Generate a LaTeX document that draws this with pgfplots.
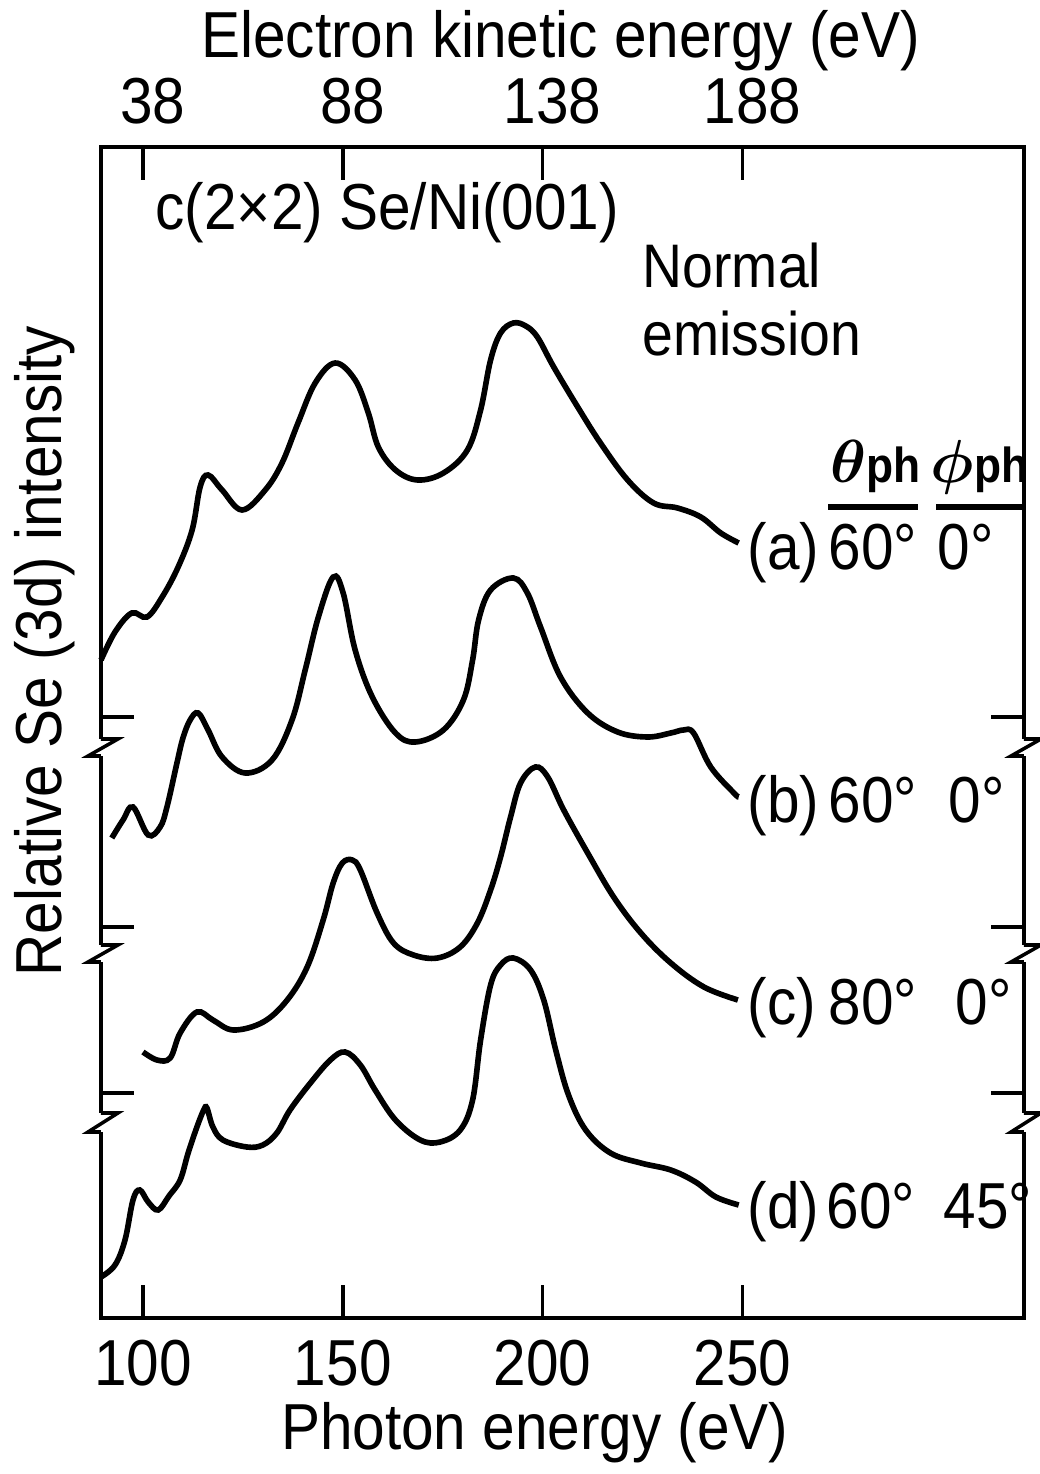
\documentclass[border=0pt]{standalone}
\usepackage{pgfplots}
\pgfplotsset{compat=1.18}
\usepackage{fontspec}
\setmainfont{Liberation Sans}[FakeStretch=0.9]
\newcommand\fs{\fontsize{18.5}{22}\selectfont}
\begin{document}
\fs
\begin{tikzpicture}
\begin{axis}[
  scale only axis, width=9.23cm, height=11.71cm,
  xmin=89.49, xmax=320.5, ymin=0, ymax=11.71,
  xtick={100,150,200,250}, xticklabels={100,150,200,250},
  ytick={2.25,3.91,6.01}, yticklabels={,,},
  major tick length=0.33cm,
  tick align=inside,
  every tick/.style={black, line width=1pt},
  axis line style={line width=1pt},
  tick label style={font=\fs},
  label style={font=\fs},
  xlabel={Photon energy (eV)},
  ylabel={Relative Se (3d) intensity},
  xlabel style={at={(axis description cs:0.470,-0.1127)}, anchor=base},
  ylabel style={at={(axis description cs:-0.0423,0.5696)}, anchor=base},
  clip=false,
]
% curve (a)
\addplot[black, line width=1.6pt, smooth, tension=0.6] coordinates {
(89.5,6.58) (93.0,6.86) (97.2,7.05) (101.0,7.01) (104.8,7.21) (108.8,7.51) (112.3,7.88) (114.3,8.31) (116.3,8.43) (119.8,8.28) (124.8,8.08) (130.6,8.28) (134.8,8.55) (138.8,8.95) (143.1,9.35) (148.1,9.55) (153.1,9.38) (156.4,9.05) (158.9,8.71) (163.2,8.48) (168.7,8.38) (175.2,8.45) (181.2,8.68) (184.5,9.08) (187.0,9.58) (189.5,9.85) (192.7,9.95) (195.8,9.92) (198.7,9.81) (202.8,9.51) (208.8,9.11) (214.5,8.75) (221.3,8.38) (227.8,8.15) (233.8,8.10) (239.6,8.01) (244.6,7.85) (249.1,7.75)
};
% curve (b)
\addplot[black, line width=1.6pt, smooth, tension=0.6] coordinates {
(92.2,4.80) (95.0,4.98) (97.5,5.11) (101.3,4.83) (104.3,4.91) (106.0,5.11) (108.5,5.55) (110.0,5.80) (111.8,5.98) (113.8,6.05) (116.3,5.88) (119.8,5.61) (125.6,5.45) (132.3,5.58) (137.3,5.98) (140.6,6.48) (143.9,7.01) (147.6,7.41) (150.1,7.25) (153.1,6.68) (157.4,6.21) (163.2,5.85) (168.2,5.76) (175.2,5.88) (180.2,6.18) (182.5,6.58) (184.0,6.98) (187.0,7.28) (192.7,7.40) (196.2,7.25) (199.5,6.91) (204.5,6.41) (211.3,6.05) (218.8,5.86) (226.3,5.81) (232.1,5.85) (235.3,5.88) (237.8,5.85) (242.1,5.51) (247.9,5.25) (249.1,5.21)
};
% curve (c)
\addplot[black, line width=1.6pt, smooth, tension=0.6] coordinates {
(100.0,2.66) (103.5,2.58) (106.8,2.60) (109.3,2.85) (113.5,3.06) (117.5,2.98) (122.6,2.88) (130.1,2.96) (136.1,3.18) (141.1,3.51) (145.1,3.98) (147.6,4.35) (149.9,4.55) (152.4,4.58) (154.4,4.48) (158.6,4.05) (162.7,3.75) (167.7,3.63) (173.7,3.60) (179.4,3.71) (183.7,3.95) (187.0,4.28) (189.5,4.61) (192.0,5.01) (194.5,5.35) (198.2,5.51) (201.3,5.41) (205.3,5.08) (211.3,4.65) (217.8,4.21) (224.6,3.85) (232.1,3.55) (240.4,3.31) (248.9,3.18)
};
% curve (d)
\addplot[black, line width=1.6pt, smooth, tension=0.6] coordinates {
(89.5,0.41) (93.0,0.53) (95.5,0.78) (97.5,1.18) (99.2,1.28) (101.3,1.16) (103.8,1.08) (106.5,1.22) (109.3,1.38) (111.3,1.65) (113.5,1.91) (115.2,2.08) (116.0,2.10) (117.5,1.91) (120.0,1.78) (126.0,1.71) (130.0,1.73) (133.5,1.85) (136.8,2.08) (141.9,2.35) (146.9,2.58) (150.6,2.66) (154.4,2.53) (158.1,2.28) (163.2,1.98) (169.4,1.78) (174.4,1.76) (179.4,1.88) (182.5,2.18) (184.5,2.78) (187.0,3.33) (189.5,3.53) (192.7,3.60) (197.0,3.48) (200.3,3.18) (203.3,2.68) (206.5,2.23) (210.8,1.88) (217.0,1.65) (224.6,1.55) (232.1,1.48) (238.3,1.36) (243.4,1.21) (249.1,1.13)
};
% axis breaks (left)
\fill[white] ([xshift=-2pt]axis cs:89.49,5.79) rectangle ([xshift=2pt]axis cs:89.49,5.62);
\fill[white] ([xshift=-2pt]axis cs:89.49,3.73) rectangle ([xshift=2pt]axis cs:89.49,3.56);
\fill[white] ([xshift=-2pt]axis cs:89.49,2.05) rectangle ([xshift=2pt]axis cs:89.49,1.86);
\draw[line width=1pt] (axis cs:89.49,5.79) -- ([xshift=0.17cm]axis cs:89.49,5.79) -- ([xshift=-0.13cm]axis cs:89.49,5.62) -- (axis cs:89.49,5.62);
\draw[line width=1pt] (axis cs:89.49,3.73) -- ([xshift=0.17cm]axis cs:89.49,3.73) -- ([xshift=-0.13cm]axis cs:89.49,3.56) -- (axis cs:89.49,3.56);
\draw[line width=1pt] (axis cs:89.49,2.05) -- ([xshift=0.17cm]axis cs:89.49,2.05) -- ([xshift=-0.13cm]axis cs:89.49,1.86) -- (axis cs:89.49,1.86);
% axis breaks (right)
\fill[white] ([xshift=-2pt]axis cs:320.5,5.79) rectangle ([xshift=2pt]axis cs:320.5,5.62);
\fill[white] ([xshift=-2pt]axis cs:320.5,3.73) rectangle ([xshift=2pt]axis cs:320.5,3.56);
\fill[white] ([xshift=-2pt]axis cs:320.5,2.05) rectangle ([xshift=2pt]axis cs:320.5,1.86);
\draw[line width=1pt] (axis cs:320.5,5.79) -- ([xshift=0.17cm]axis cs:320.5,5.79) -- ([xshift=-0.13cm]axis cs:320.5,5.62) -- (axis cs:320.5,5.62);
\draw[line width=1pt] (axis cs:320.5,3.73) -- ([xshift=0.17cm]axis cs:320.5,3.73) -- ([xshift=-0.13cm]axis cs:320.5,3.56) -- (axis cs:320.5,3.56);
\draw[line width=1pt] (axis cs:320.5,2.05) -- ([xshift=0.17cm]axis cs:320.5,2.05) -- ([xshift=-0.13cm]axis cs:320.5,1.86) -- (axis cs:320.5,1.86);
% annotations
\node[anchor=base west, inner sep=0pt] at (axis cs:103.0,10.88) {c(2×2) Se/Ni(001)};
\node[anchor=north west, inner sep=0pt, align=left, font=\fontsize{17.5}{19.5}\selectfont] at (axis cs:224.9,10.76) {Normal\\emission};
\node[anchor=base west, inner sep=0pt] at (axis cs:271.8,8.35) {{\boldmath$\theta$}{\fontsize{14}{14}\selectfont\bfseries ph}};
\node[anchor=base west, inner sep=0pt] at (axis cs:297.0,8.35) {{\boldmath$\phi$}{\fontsize{14}{14}\selectfont\bfseries ph}};
\draw[line width=1.8pt] (axis cs:271.5,8.11) -- (axis cs:294.0,8.11);
\draw[line width=1.8pt] (axis cs:298.5,8.11) -- (axis cs:320.0,8.11);
\node[anchor=base west, inner sep=0pt] at (axis cs:251.2,7.48) {(a)};
\node[anchor=base west, inner sep=0pt] at (axis cs:271.5,7.48) {60°};
\node[anchor=base west, inner sep=0pt] at (axis cs:298.7,7.48) {0°};
\node[anchor=base west, inner sep=0pt] at (axis cs:251.2,4.95) {(b)};
\node[anchor=base west, inner sep=0pt] at (axis cs:271.5,4.95) {60°};
\node[anchor=base west, inner sep=0pt] at (axis cs:301.5,4.95) {0°};
\node[anchor=base west, inner sep=0pt] at (axis cs:251.2,2.94) {(c)};
\node[anchor=base west, inner sep=0pt] at (axis cs:271.5,2.94) {80°};
\node[anchor=base west, inner sep=0pt] at (axis cs:303.3,2.94) {0°};
\node[anchor=base west, inner sep=0pt] at (axis cs:251.2,0.90) {(d)};
\node[anchor=base west, inner sep=0pt] at (axis cs:271.0,0.90) {60°};
\node[anchor=base west, inner sep=0pt] at (axis cs:300.2,0.90) {45°};
\end{axis}
\begin{axis}[
  scale only axis, width=9.23cm, height=11.71cm,
  xmin=89.49, xmax=320.5, ymin=0, ymax=11.71,
  axis x line*=top, hide y axis,
  axis line style={draw=none},
  xtick={100,150,200,250}, xticklabels={38,88,138,188},
  major tick length=0pt,
  tick label style={font=\fs},
  xticklabel style={xshift=0.1cm},
  xlabel={Electron kinetic energy (eV)},
  xlabel style={font=\fs, at={(axis description cs:0.498,1.076)}, anchor=base},
]
\end{axis}
\pgfresetboundingbox
\path ([shift={(-1.01cm,-1.56cm)}]current axis.south west) rectangle ++(10.40cm,14.74cm);
\end{tikzpicture}
\end{document}
